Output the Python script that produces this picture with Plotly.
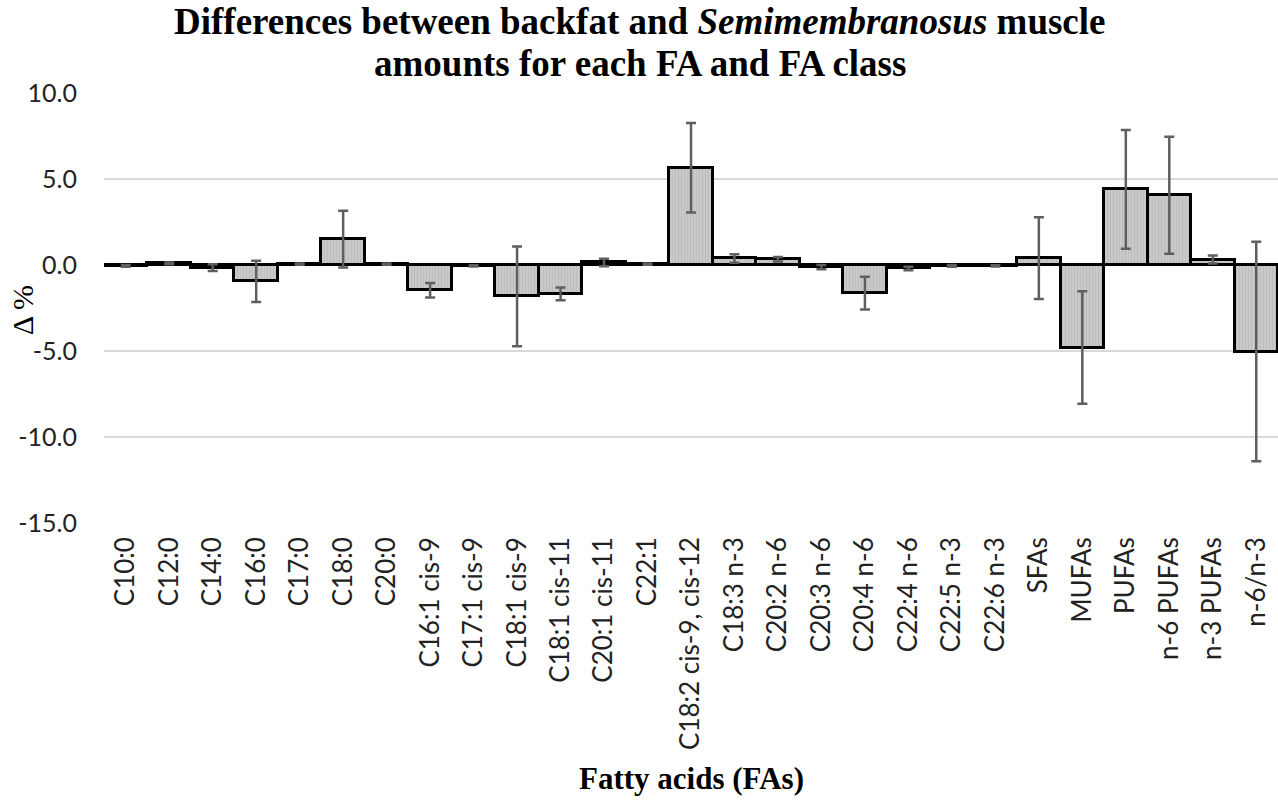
import plotly.graph_objects as go

categories = ["C10:0", "C12:0", "C14:0", "C16:0", "C17:0", "C18:0", "C20:0",
              "C16:1 cis-9", "C17:1 cis-9", "C18:1 cis-9", "C18:1 cis-11",
              "C20:1 cis-11", "C22:1", "C18:2 cis-9, cis-12", "C18:3 n-3",
              "C20:2 n-6", "C20:3 n-6", "C20:4 n-6", "C22:4 n-6", "C22:5 n-3",
              "C22:6 n-3", "SFAs", "MUFAs", "PUFAs", "n-6 PUFAs", "n-3 PUFAs",
              "n-6/n-3"]

delta = [-0.05, 0.1, -0.15, -0.95, 0.05, 1.5, 0.05,
         -1.47, -0.05, -1.83, -1.68,
         0.15, 0.05, 5.65, 0.38,
         0.33, -0.12, -1.63, -0.2, -0.05,
         -0.05, 0.4, -4.8, 4.4, 4.05, 0.32,
         -5.03]
err = [0.05, 0.05, 0.2, 1.2, 0.03, 1.65, 0.03,
       0.42, 0.03, 2.9, 0.37,
       0.22, 0.03, 2.6, 0.25,
       0.13, 0.12, 0.95, 0.1, 0.05,
       0.03, 2.38, 3.27, 3.45, 3.4, 0.23,
       6.38]

y_tickvals = [-15, -10, -5, 0, 5, 10]
y_ticktext = ["-15.0", "-10.0", "-5.0", "0.0", "5.0", "10.0"]

fig = go.Figure()
fig.add_trace(go.Bar(
    x=categories, y=delta,
    marker=dict(color="#c4c4c4", line=dict(color="black", width=3),
                pattern=dict(shape="|", fgcolor="#b0b0b0", bgcolor="#c9c9c9",
                             size=3, solidity=0.3)),
    error_y=dict(type="data", array=err, visible=True, color="#5f5f5f",
                 thickness=2.5, width=5),
))

fig.update_layout(
    width=1278, height=800,
    margin=dict(l=104, r=0, t=93, b=277),
    paper_bgcolor="white", plot_bgcolor="white",
    bargap=0, showlegend=False,
    font=dict(family="Lato", size=26, color="#222222"),
    xaxis=dict(showgrid=False, showline=False, ticks="", tickangle=-90,
               tickfont=dict(family="Lato", size=26, color="#222222"),
               ticklabelstandoff=8),
    yaxis=dict(range=[-15, 10], tickvals=y_tickvals, ticktext=y_ticktext,
               showgrid=True, gridcolor="#d9d9d9", gridwidth=1.5,
               zeroline=False, showline=False, ticks="",
               tickfont=dict(family="Lato", size=25, color="#222222"),
               ticklabelstandoff=26),
)

serif = "Liberation Serif, Times New Roman, serif"
fig.add_annotation(text="<b>Differences between backfat and <i>Semimembranosus</i> muscle</b>",
                   xref="paper", yref="paper", x=0.4566, y=1.1666,
                   xanchor="center", yanchor="middle", showarrow=False,
                   font=dict(family=serif, size=37, color="black"))
fig.add_annotation(text="<b>amounts for each FA and FA class</b>",
                   xref="paper", yref="paper", x=0.4566, y=1.069,
                   xanchor="center", yanchor="middle", showarrow=False,
                   font=dict(family=serif, size=37, color="black"))
fig.add_annotation(text="<b>Fatty acids (FAs)</b>",
                   xref="paper", yref="paper", x=0.5, y=-0.595,
                   xanchor="center", yanchor="middle", showarrow=False,
                   font=dict(family=serif, size=31, color="black"))
fig.add_annotation(text="Δ %", textangle=-90,
                   xref="paper", yref="paper", x=-0.0698, y=0.495,
                   xanchor="center", yanchor="middle", showarrow=False,
                   font=dict(family=serif, size=30, color="black"))

fig.write_html("out.html")
